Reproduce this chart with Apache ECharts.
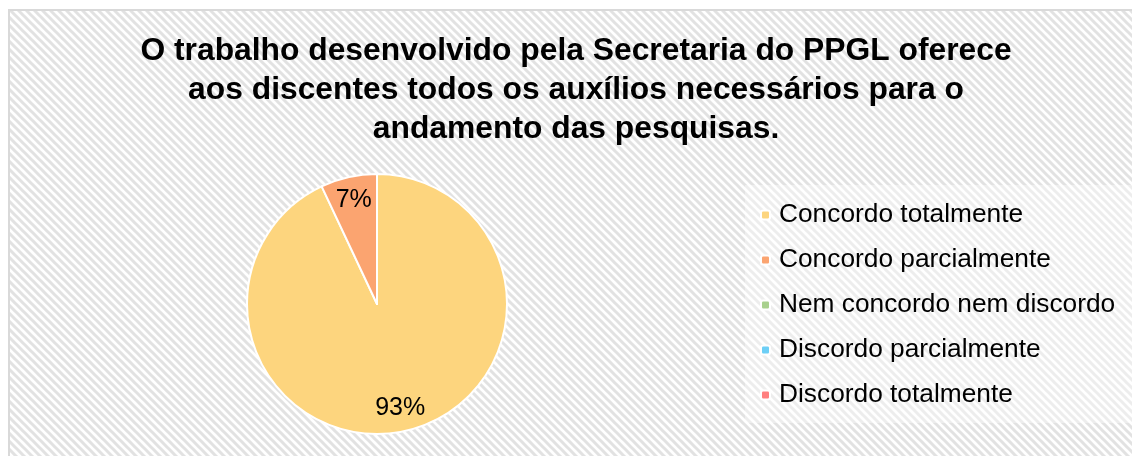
<!DOCTYPE html>
<html>
<head>
<meta charset="utf-8">
<script src="https://cdn.jsdelivr.net/npm/echarts@6/dist/echarts.min.js"></script>
<style>
  html, body { margin: 0; padding: 0; background: #fff; }
  #chart { width: 1132px; height: 456px; }
</style>
</head>
<body>
<div id="chart"></div>
<script>
var titleText = 'O trabalho desenvolvido pela Secretaria do PPGL oferece\naos discentes todos os auxílios necessários para o\nandamento das pesquisas.';
var categories = ['Concordo totalmente', 'Concordo parcialmente', 'Nem concordo nem discordo', 'Discordo parcialmente', 'Discordo totalmente'];
var values = [93, 7, 0, 0, 0];
var colors = ['#fdd57e', '#fba470', '#a9d18e', '#6dcff6', '#ff7f7f'];

// diagonal stripes for the chart area background
function stripes() {
  var c = document.createElement('canvas');
  c.width = 8; c.height = 8;
  var g = c.getContext('2d');
  g.fillStyle = '#ffffff';
  g.fillRect(0, 0, 8, 8);
  g.strokeStyle = '#e2e2e2';
  g.lineWidth = 3;
  g.beginPath();
  g.moveTo(-2, -2); g.lineTo(10, 10);
  g.moveTo(-10, -2); g.lineTo(2, 10);
  g.moveTo(6, -2); g.lineTo(18, 10);
  g.stroke();
  return c;
}

var pieData = categories.map(function (name, i) {
  return { name: name, value: values[i] };
});

var myChart = echarts.init(document.getElementById('chart'));

myChart.setOption({
  animation: false,
  color: colors,
  title: {
    text: titleText,
    left: 571,
    top: 27,
    textAlign: 'center',
    textStyle: {
      fontFamily: 'Liberation Sans',
      fontWeight: 'bold',
      fontSize: 31.8,
      lineHeight: 38.8,
      color: '#000'
    }
  },
  legend: {
    orient: 'vertical',
    left: 745,
    top: 185,
    padding: [15, 20, 13, 15],
    backgroundColor: 'rgba(255,255,255,0.4)',
    itemWidth: 9,
    itemHeight: 9,
    itemGap: 15,
    data: categories,
    textStyle: {
      fontFamily: 'Liberation Sans',
      fontSize: 26.3,
      lineHeight: 30,
      color: '#000',
      padding: [0, 0, 0, 4]
    }
  },
  graphic: [{
    type: 'rect',
    z: -10,
    silent: true,
    shape: { x: 9, y: 10, width: 1130, height: 450 },
    style: {
      fill: { image: stripes(), repeat: 'repeat' },
      stroke: '#d9d9d9',
      lineWidth: 2
    }
  }],
  series: [{
    type: 'pie',
    center: [377, 304],
    radius: 130,
    startAngle: 90,
    clockwise: true,
    itemStyle: { borderColor: '#fff', borderWidth: 2 },
    label: { show: false },
    labelLine: { show: false },
    emphasis: { disabled: true },
    data: pieData
  }, {
    // transparent ring, only used to place the percent labels
    type: 'pie',
    center: [377, 304],
    radius: [77, 130],
    startAngle: 90,
    clockwise: true,
    silent: true,
    legendHoverLink: false,
    itemStyle: { color: 'rgba(0,0,0,0)', borderWidth: 0 },
    label: {
      show: true,
      position: 'inside',
      formatter: function (p) { return p.value > 0 ? p.value + '%' : ''; },
      fontFamily: 'Liberation Sans',
      fontSize: 25,
      color: '#000'
    },
    labelLine: { show: false },
    emphasis: { disabled: true },
    data: pieData.map(function (d) { return { name: d.name + ' ', value: d.value }; })
  }]
});
</script>
</body>
</html>
